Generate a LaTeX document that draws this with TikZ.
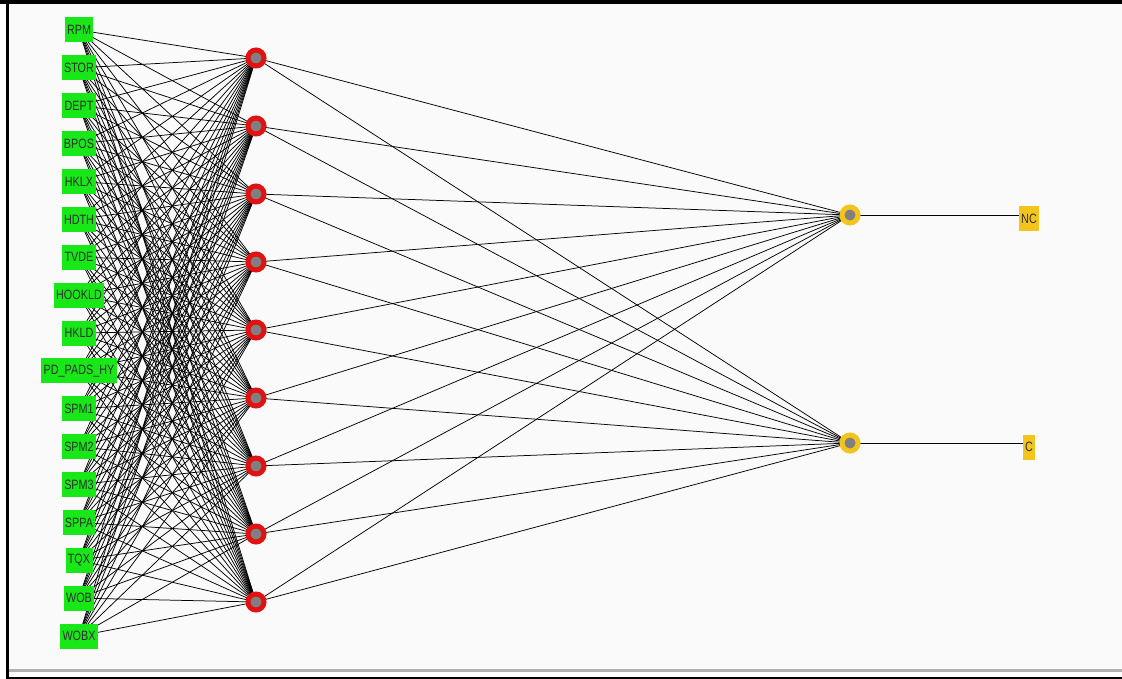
\documentclass[tikz,border=0pt]{standalone}
\usepackage{fontspec}
\setmainfont{Liberation Sans}[FakeStretch=0.8]
\pgfdeclarelayer{bg}
\pgfdeclarelayer{edges}
\pgfsetlayers{bg,edges,main}
\definecolor{inpgreen}{RGB}{24,232,24}
\definecolor{hidred}{RGB}{226,18,18}
\definecolor{outyel}{RGB}{243,196,28}
\definecolor{nodegray}{RGB}{128,128,128}
\definecolor{canvas}{RGB}{250,250,250}
\definecolor{txt}{RGB}{45,45,45}
\tikzset{
  inbox/.style={fill=inpgreen, text=txt, inner xsep=2.4pt, inner ysep=0pt, minimum height=25pt, font=\fontsize{13.5}{13.5}\selectfont},
  outbox/.style={fill=outyel, text=txt, inner xsep=1.8pt, inner ysep=0pt, minimum height=25pt, font=\fontsize{13.5}{13.5}\selectfont},
  hid/.style={circle, fill=nodegray, draw=hidred, line width=5pt, minimum size=16pt, inner sep=0pt},
  outn/.style={circle, fill=nodegray, draw=outyel, line width=5pt, minimum size=16pt, inner sep=0pt},
  wire/.style={draw=black, line width=0.75pt}
}
\begin{document}
\begin{tikzpicture}[x=1pt,y=-1pt]
\useasboundingbox (0,0) rectangle (1122,679);
\begin{pgfonlayer}{bg}
\fill[white] (0,0) rectangle (1122,679);
\fill[canvas] (9,4) rectangle (1122,669);
\fill[black!30] (9,669) rectangle (1122,672);
\fill[black] (0,0) rectangle (1122,4.5);
\fill[black] (6,0) rectangle (9,679);
\fill[black] (6,677) rectangle (1122,679);
\end{pgfonlayer}
% input nodes
\foreach \lab [count=\k] in {RPM,STOR,DEPT,BPOS,HKLX,HDTH,TVDE,HOOKLD,HKLD,PD\_PADS\_HY,SPM1,SPM2,SPM3,SPPA,TQX,WOB,WOBX}{
  \node[inbox] (i\k) at (79,{30+37.875*(\k-1)}) {\lab};
}
% hidden nodes
\foreach \k in {1,...,9}{
  \node[hid] (h\k) at (256,{58+68*(\k-1)}) {};
}
% output nodes
\node[outn] (o1) at (850,215) {};
\node[outn] (o2) at (850,443) {};
\node[outbox] (l1) at (1029,219) {NC};
\node[outbox] (l2) at (1029,447) {C};
% connections
\begin{pgfonlayer}{edges}
\foreach \a in {1,...,17}{
  \foreach \b in {1,...,9}{
    \draw[wire] (i\a.center) -- (h\b.center);
  }
}
\foreach \b in {1,...,9}{
  \draw[wire] (h\b.center) -- (o1.center);
  \draw[wire] (h\b.center) -- (o2.center);
}
\draw[wire] (o1.center) -- (o1 -| l1.west);
\draw[wire] (o2.center) -- (o2 -| l2.west);
\end{pgfonlayer}
\end{tikzpicture}
\end{document}
